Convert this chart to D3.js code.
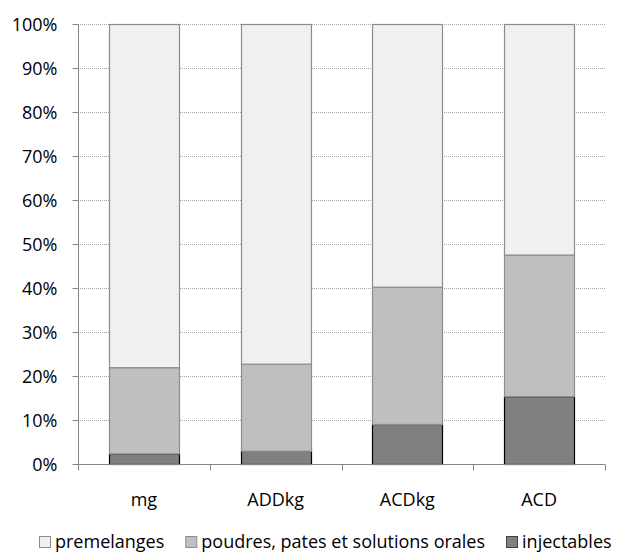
<!DOCTYPE html>
<html>
<head>
<meta charset="utf-8">
<script src="https://cdn.jsdelivr.net/npm/d3@7"></script>
<style>
  body { margin: 0; background: #fff; }
  text { font-family: "Open Sans", "Liberation Sans", sans-serif; fill: #000; }
</style>
</head>
<body>
<svg id="chart" width="621" height="554"></svg>
<script>
// data
var categories = ["mg", "ADDkg", "ACDkg", "ACD"];
var seriesNames = ["injectables", "poudres, pates et solutions orales", "premelanges"];
var injectables = [2.4, 3.0, 9.1, 15.4];
var poudres = [19.6, 19.8, 31.2, 32.2];
var premelanges = [78.0, 77.2, 59.7, 52.4];
var yTicks = [0, 10, 20, 30, 40, 50, 60, 70, 80, 90, 100];

var colors = {"premelanges": "#f0f0f0", "poudres, pates et solutions orales": "#bfbfbf", "injectables": "#808080"};
var strokes = {"premelanges": "#8c8c8c", "poudres, pates et solutions orales": "#8c8c8c", "injectables": "#000"};

var rows = categories.map(function(c, i){
  return {cat: c, "injectables": injectables[i], "poudres, pates et solutions orales": poudres[i], "premelanges": premelanges[i]};
});

var m = {t:24, r:16, b:90, l:78},
    W = 621, H = 554,
    w = W - m.l - m.r,
    h = H - m.t - m.b;

var svg = d3.select("#chart");
var g = svg.append("g").attr("transform", "translate(" + m.l + "," + m.t + ")");

var x = d3.scaleBand().domain(categories).range([0, w]).paddingInner(0.47).paddingOuter(0.235);
var xb = d3.scaleBand().domain(categories).range([0, w]);
var y = d3.scaleLinear().domain([0, 100]).range([h, 0]);

// gridlines
g.selectAll(".grid")
  .data(yTicks.filter(function(d){ return d > 0; }))
  .enter().append("line")
  .attr("class", "grid")
  .attr("x1", 0).attr("x2", w)
  .attr("y1", function(d){ return Math.round(y(d)) + 0.5; })
  .attr("y2", function(d){ return Math.round(y(d)) + 0.5; })
  .style("stroke", "#a6a6a6")
  .style("stroke-dasharray", "1,1");

// stacked bars
var stack = d3.stack().keys(seriesNames)(rows);
g.selectAll(".layer")
  .data(stack)
  .enter().append("g")
  .attr("class", "layer")
  .each(function(s){
    d3.select(this).selectAll("rect")
      .data(s)
      .enter().append("rect")
      .attr("x", function(d){ return Math.round(x(d.data.cat)) + 0.5; })
      .attr("y", function(d){ return y(d[1]) + 0.5; })
      .attr("width", Math.round(x.bandwidth()))
      .attr("height", function(d){ return y(d[0]) - y(d[1]); })
      .style("fill", colors[s.key])
      .style("stroke", strokes[s.key])
      .style("stroke-width", 1.2);
  });

// y axis
var yAxis = g.append("g")
  .attr("transform", "translate(0.5,0)")
  .call(d3.axisLeft(y).tickValues(yTicks).tickSize(6).tickPadding(15)
    .tickFormat(function(d){ return d + "%"; }));
yAxis.select(".domain").style("stroke", "#868686").attr("d", "M0," + y(100) + "V" + y(0));
yAxis.selectAll(".tick line").style("stroke", "#868686");
yAxis.selectAll(".tick text").style("font-size", "18px").attr("dy", "0.36em");

// x axis
var xAxis = g.append("g").attr("transform", "translate(0," + (h + 0.5) + ")");
xAxis.append("line").attr("x1", 0).attr("x2", w).style("stroke", "#868686");
xAxis.selectAll(".xt")
  .data(d3.range(categories.length + 1))
  .enter().append("line")
  .attr("x1", function(i){ return Math.round(i * xb.step()) + 0.5; })
  .attr("x2", function(i){ return Math.round(i * xb.step()) + 0.5; })
  .attr("y1", 0).attr("y2", 6)
  .style("stroke", "#868686");
xAxis.selectAll(".xl")
  .data(categories)
  .enter().append("text")
  .attr("x", function(d){ return xb(d) + xb.bandwidth() / 2; })
  .attr("y", 41)
  .attr("text-anchor", "middle")
  .style("font-size", "18px")
  .text(function(d){ return d; });

// legend, centred under the chart
var legendItems = ["premelanges", "poudres, pates et solutions orales", "injectables"];
var legend = svg.append("g");
var lx = 0;
legendItems.forEach(function(k, i){
  var it = legend.append("g").attr("transform", "translate(" + lx + ",0)");
  it.append("rect").attr("x", 0.5).attr("y", -11.5).attr("width", 11).attr("height", 11)
    .style("fill", colors[k]).style("stroke", k == "injectables" ? "#404040" : "#8c8c8c");
  var t = it.append("text").attr("x", 16).attr("y", 0).style("font-size", "18px").text(k);
  lx += 16 + t.node().getComputedTextLength() + (i < legendItems.length - 1 ? 21 : 0);
});
legend.attr("transform", "translate(" + Math.round(325.5 - lx / 2) + ",548)");
</script>
</body>
</html>
